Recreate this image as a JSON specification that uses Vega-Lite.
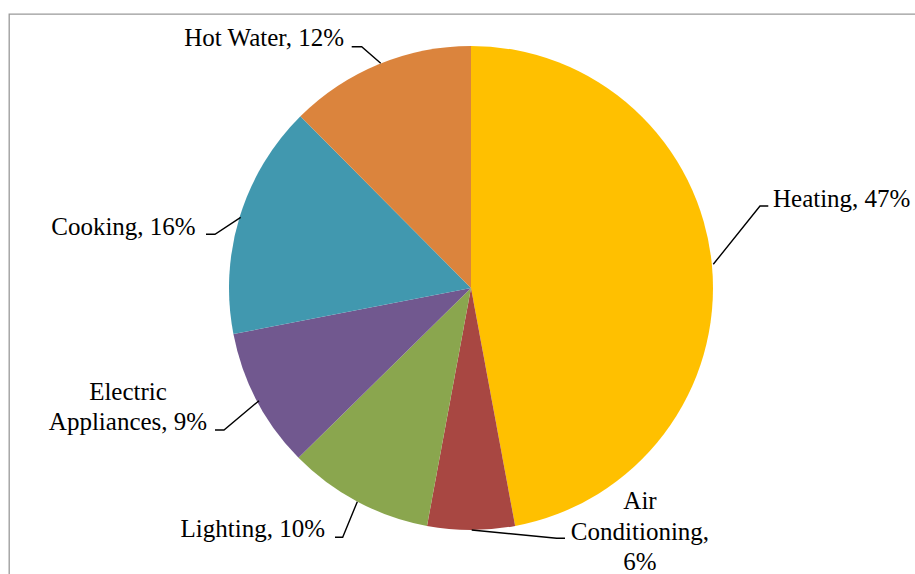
{
  "$schema": "https://vega.github.io/schema/vega-lite/v6.json",
  "width": 920,
  "height": 580,
  "autosize": "none",
  "padding": {"left": 9, "top": 14, "right": 0, "bottom": 0},
  "background": "white",
  "config": {"view": {"stroke": "#999999", "strokeWidth": 1.3}},
  "datasets": {
    "slices": [
      {"idx": 1, "label": "Heating", "value": 47.08},
      {"idx": 2, "label": "Air Conditioning", "value": 5.83},
      {"idx": 3, "label": "Lighting", "value": 9.72},
      {"idx": 4, "label": "Electric Appliances", "value": 9.32},
      {"idx": 5, "label": "Cooking", "value": 15.6},
      {"idx": 6, "label": "Hot Water", "value": 12.45}
    ],
    "leaders": [
      {"label": "Heating", "pt": 1, "x": 100.12, "y": 9.79},
      {"label": "Heating", "pt": 2, "x": 119.42, "y": 33.88},
      {"label": "Heating", "pt": 3, "x": 122.85, "y": 33.88},
      {"label": "Air Conditioning", "pt": 1, "x": 0.29, "y": -100.0},
      {"label": "Air Conditioning", "pt": 2, "x": 35.41, "y": -103.43},
      {"label": "Air Conditioning", "pt": 3, "x": 38.84, "y": -103.43},
      {"label": "Lighting", "pt": 1, "x": -46.98, "y": -88.31},
      {"label": "Lighting", "pt": 2, "x": -53.02, "y": -103.02},
      {"label": "Lighting", "pt": 3, "x": -56.2, "y": -103.02},
      {"label": "Electric Appliances", "pt": 1, "x": -87.6, "y": -46.57},
      {"label": "Electric Appliances", "pt": 2, "x": -102.07, "y": -58.68},
      {"label": "Electric Appliances", "pt": 3, "x": -105.79, "y": -58.68},
      {"label": "Cooking", "pt": 1, "x": -95.17, "y": 29.21},
      {"label": "Cooking", "pt": 2, "x": -105.79, "y": 22.19},
      {"label": "Cooking", "pt": 3, "x": -109.5, "y": 22.19},
      {"label": "Hot Water", "pt": 1, "x": -37.31, "y": 92.85},
      {"label": "Hot Water", "pt": 2, "x": -45.17, "y": 99.71},
      {"label": "Hot Water", "pt": 3, "x": -49.3, "y": 99.71}
    ],
    "labels": [
      {"label": "Heating", "text": "Heating, 47%", "x": 124.79, "y": 33.47},
      {"label": "Air Conditioning", "text": "Air\nConditioning,\n6%", "x": 69.83, "y": -91.45},
      {"label": "Lighting", "text": "Lighting, 10%", "x": -60.33, "y": -102.77},
      {"label": "Electric Appliances", "text": "Electric\nAppliances, 9%", "x": -141.74, "y": -46.28},
      {"label": "Cooking", "text": "Cooking, 16%", "x": -113.76, "y": 21.9},
      {"label": "Hot Water", "text": "Hot Water, 12%", "x": -52.48, "y": 100.0}
    ]
  },
  "layer": [
    {
      "data": {"name": "slices"},
      "mark": {"type": "arc", "outerRadius": 242},
      "encoding": {
        "x": {"datum": 0, "type": "quantitative", "scale": {"domain": [-190.91, 189.26], "nice": false, "zero": false}, "axis": null},
        "y": {"datum": 0, "type": "quantitative", "scale": {"domain": [-126.45, 113.22], "nice": false, "zero": false}, "axis": null},
        "theta": {"field": "value", "type": "quantitative", "stack": true},
        "order": {"field": "idx", "type": "quantitative"},
        "color": {
          "field": "label", "type": "nominal", "legend": null,
          "scale": {
            "domain": ["Heating", "Air Conditioning", "Lighting", "Electric Appliances", "Cooking", "Hot Water"],
            "range": ["#FFC000", "#A84742", "#8AA64E", "#71588F", "#4198AF", "#DB843D"]
          }
        }
      }
    },
    {
      "data": {"name": "leaders"},
      "mark": {"type": "line", "color": "#000000", "strokeWidth": 1.4},
      "encoding": {
        "x": {"field": "x", "type": "quantitative", "scale": {"domain": [-190.91, 189.26], "nice": false, "zero": false}, "axis": null},
        "y": {"field": "y", "type": "quantitative", "scale": {"domain": [-126.45, 113.22], "nice": false, "zero": false}, "axis": null},
        "detail": {"field": "label", "type": "nominal"},
        "order": {"field": "pt", "type": "quantitative"}
      }
    },
    {
      "data": {"name": "labels"},
      "transform": [{"filter": "datum.label === 'Heating'"}],
      "mark": {"type": "text", "font": "Liberation Serif", "fontSize": 25, "color": "#000000", "align": "left", "baseline": "alphabetic", "lineBreak": "\n", "lineHeight": 30.5},
      "encoding": {
        "x": {"field": "x", "type": "quantitative", "scale": {"domain": [-190.91, 189.26], "nice": false, "zero": false}, "axis": null},
        "y": {"field": "y", "type": "quantitative", "scale": {"domain": [-126.45, 113.22], "nice": false, "zero": false}, "axis": null},
        "text": {"field": "text"}
      }
    },
    {
      "data": {"name": "labels"},
      "transform": [{"filter": "datum.label === 'Air Conditioning' || datum.label === 'Electric Appliances'"}],
      "mark": {"type": "text", "font": "Liberation Serif", "fontSize": 25, "color": "#000000", "align": "center", "baseline": "alphabetic", "lineBreak": "\n", "lineHeight": 30.5},
      "encoding": {
        "x": {"field": "x", "type": "quantitative", "scale": {"domain": [-190.91, 189.26], "nice": false, "zero": false}, "axis": null},
        "y": {"field": "y", "type": "quantitative", "scale": {"domain": [-126.45, 113.22], "nice": false, "zero": false}, "axis": null},
        "text": {"field": "text"}
      }
    },
    {
      "data": {"name": "labels"},
      "transform": [{"filter": "datum.label === 'Lighting' || datum.label === 'Cooking' || datum.label === 'Hot Water'"}],
      "mark": {"type": "text", "font": "Liberation Serif", "fontSize": 25, "color": "#000000", "align": "right", "baseline": "alphabetic", "lineBreak": "\n", "lineHeight": 30.5},
      "encoding": {
        "x": {"field": "x", "type": "quantitative", "scale": {"domain": [-190.91, 189.26], "nice": false, "zero": false}, "axis": null},
        "y": {"field": "y", "type": "quantitative", "scale": {"domain": [-126.45, 113.22], "nice": false, "zero": false}, "axis": null},
        "text": {"field": "text"}
      }
    }
  ]
}
